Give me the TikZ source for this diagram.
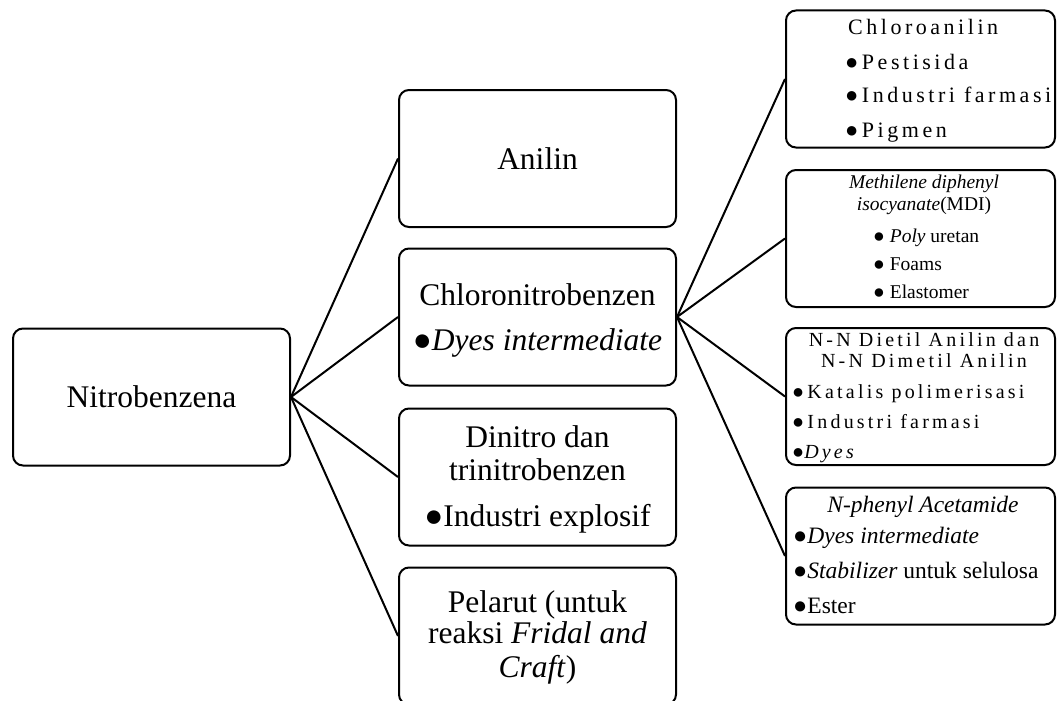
\documentclass[tikz,border=0pt]{standalone}
\usepackage{fontspec}
\setmainfont{Liberation Serif}
\begin{document}
\begin{tikzpicture}[x=1pt,y=-1pt,
  box/.style={draw, line width=2pt, rounded corners=10pt, inner sep=0pt},
  midbox/.style={box, minimum width=277, minimum height=137},
  rbox/.style={box, minimum width=269, minimum height=137},
  big/.style={font=\fontsize{31.5}{33}\selectfont, inner sep=0pt},
  spaced/.style={font=\fontsize{22}{24}\selectfont\addfontfeature{LetterSpace=16}, inner sep=0pt},
  spacedsm/.style={font=\fontsize{20}{22}\selectfont\addfontfeature{LetterSpace=16}, inner sep=0pt},
  small/.style={font=\fontsize{19.5}{21}\selectfont, inner sep=0pt},
  mid/.style={font=\fontsize{23.5}{25}\selectfont, inner sep=0pt},
  conn/.style={line width=2pt}]
\clip (0,0) rectangle (1057,701);
% boxes
\node[midbox] (nitro) at (151.5,397) {};
\node[midbox] (anilin) at (537.5,158.5) {};
\node[midbox] (chloro) at (537.5,317) {};
\node[midbox] (dinitro) at (537.5,477) {};
\node[midbox] (pelarut) at (537.5,636) {};
\node[rbox] (canil) at (920.5,79) {};
\node[rbox] (mdi) at (920.5,238.5) {};
\node[rbox] (nn) at (920.5,396.5) {};
\node[rbox] (nph) at (920.5,556) {};
% connectors
\draw[conn] (nitro.east) -- (anilin.west);
\draw[conn] (nitro.east) -- (chloro.west);
\draw[conn] (nitro.east) -- (dinitro.west);
\draw[conn] (nitro.east) -- (pelarut.west);
\draw[conn] (chloro.east) -- (canil.west);
\draw[conn] (chloro.east) -- (mdi.west);
\draw[conn] (chloro.east) -- (nn.west);
\draw[conn] (chloro.east) -- (nph.west);
% texts left and middle
\node[big, anchor=base] (tnitro) at (151.5,407) {Nitrobenzena};
\node[big, anchor=base] (tanilin) at (537.5,169) {Anilin};
\node[big, anchor=base] (tchloroa) at (537.5,305) {Chloronitrobenzen};
\node[big, anchor=base] (tchlorob) at (537.5,350) {●\textit{Dyes intermediate}};
\node[big, anchor=base] (tdina) at (537.5,447) {Dinitro dan};
\node[big, anchor=base] (tdinb) at (537.5,480) {trinitrobenzen};
\node[big, anchor=base] (tdinc) at (537.5,526) {●Industri explosif};
\node[big, anchor=base] (tpela) at (537.5,612) {Pelarut (untuk};
\node[big, anchor=base] (tpelb) at (537.5,643) {reaksi \textit{Fridal and}};
\node[big, anchor=base] (tpelc) at (537.5,677) {\textit{Craft})};
% Chloroanilin box
\node[spaced, anchor=base west] (tca0) at (848,35) {Chloroanilin};
\node[spaced, anchor=base west] (tca1) at (845,70) {●Pestisida};
\node[spaced, anchor=base west] (tca2) at (845,102) {●Industri farmasi};
\node[spaced, anchor=base west] (tca3) at (845,137) {●Pigmen};
% MDI box
\node[small, anchor=base] (tmdi0) at (924,188) {\textit{Methilene diphenyl}};
\node[small, anchor=base] (tmdi1) at (924,210) {\textit{isocyanate}(MDI)};
\node[small, anchor=base west] (tmdi2) at (873,242) {● \textit{Poly} uretan};
\node[small, anchor=base west] (tmdi3) at (873,270) {● Foams};
\node[small, anchor=base west] (tmdi4) at (873,298) {● Elastomer};
% N-N box
\node[spacedsm, anchor=base] (tnn0) at (924,346) {N-N Dietil Anilin dan};
\node[spacedsm, anchor=base] (tnn1) at (924,367) {N-N Dimetil Anilin};
\node[spacedsm, anchor=base west] (tnn2) at (792,398) {●Katalis polimerisasi};
\node[spacedsm, anchor=base west] (tnn3) at (792,428) {●Industri farmasi};
\node[spacedsm, anchor=base west] (tnn4) at (792,458) {●\textit{Dyes}};
% N-phenyl box
\node[mid, anchor=base] (tnp0) at (923,512) {\textit{N-phenyl Acetamide}};
\node[mid, anchor=base west] (tnp1) at (793,543) {●\textit{Dyes intermediate}};
\node[mid, anchor=base west] (tnp2) at (793,578) {●\textit{Stabilizer} untuk selulosa};
\node[mid, anchor=base west] (tnp3) at (793,613) {●Ester};
\end{tikzpicture}
\end{document}
